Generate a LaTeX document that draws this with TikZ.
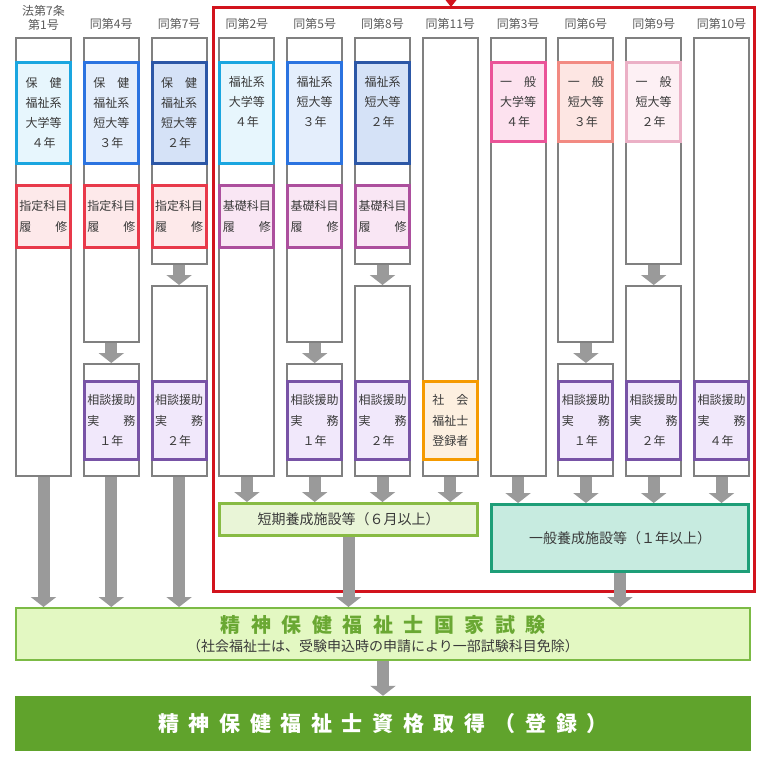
\documentclass[tikz,border=0pt]{standalone}
\usepackage{fontspec}
\setmainfont{Noto Sans CJK JP}
\usetikzlibrary{arrows.meta}
\pgfdeclarelayer{bgzero}
\pgfdeclarelayer{bgone}
\pgfsetlayers{bgzero,bgone,main}
\definecolor{colgray}{HTML}{808080}
\definecolor{arrgray}{HTML}{9A9A9A}
\definecolor{txtc}{HTML}{3A3A3A}
\definecolor{labc}{HTML}{5A5A5A}
\definecolor{cyanB}{HTML}{1AA6E0}
\definecolor{cyanF}{HTML}{E7F6FD}
\definecolor{blueB}{HTML}{2B73E0}
\definecolor{blueF}{HTML}{E4EEFC}
\definecolor{dblueB}{HTML}{2C57A6}
\definecolor{dblueF}{HTML}{D5E2F7}
\definecolor{redB}{HTML}{E8394A}
\definecolor{redF}{HTML}{FDE9EA}
\definecolor{magB}{HTML}{AC4F9D}
\definecolor{magF}{HTML}{F9E6F4}
\definecolor{purB}{HTML}{7853A6}
\definecolor{purF}{HTML}{F1E8FB}
\definecolor{orgB}{HTML}{F59A00}
\definecolor{orgF}{HTML}{FDF0E0}
\definecolor{pkaB}{HTML}{EA5498}
\definecolor{pkaF}{HTML}{FDE2EF}
\definecolor{pkbB}{HTML}{F28A82}
\definecolor{pkbF}{HTML}{FDE6E3}
\definecolor{pkcB}{HTML}{EBB0C6}
\definecolor{pkcF}{HTML}{FDF0F4}
\definecolor{shB}{HTML}{88BB44}
\definecolor{shF}{HTML}{E9F5D7}
\definecolor{genB}{HTML}{1E9E78}
\definecolor{genF}{HTML}{C7EBE0}
\definecolor{exB}{HTML}{7CBB45}
\definecolor{exF}{HTML}{E3F8C2}
\definecolor{exT}{HTML}{6AA833}
\definecolor{finF}{HTML}{60A32C}
\definecolor{frameR}{HTML}{D2131D}
\newcommand{\gspA}{\hspace{10.5pt}}
\newcommand{\gspB}{\hspace{9.6pt}}
\begin{document}
\begin{tikzpicture}[x=1pt,y=-1pt,
  colbox/.style={draw=colgray, line width=2pt, fill=white, minimum width=55pt, inner sep=0pt},
  cbox/.style={line width=3pt, minimum width=54pt, inner sep=0pt, align=center, text=txtc, font=\fontsize{12}{20.3}\selectfont},
  txt/.style={align=center, text=txtc, inner sep=0pt, font=\fontsize{12}{20.3}\selectfont},
  lab/.style={align=center, text=labc, inner sep=0pt, font=\fontsize{12}{14}\selectfont},
  blk/.style={draw=arrgray, line width=12pt, -{Triangle[width=25pt,length=10pt]}},
  wide/.style={line width=3pt, inner sep=0pt, text=txtc, font=\fontsize{14}{16}\selectfont}
]
\useasboundingbox (0,0) rectangle (763,763);

% column headings
\node[lab] (h1) at (43.5,18) {法第7条\\第1号};
\node[lab] (h2) at (111.3,24) {同第4号};
\node[lab] (h3) at (179.1,24) {同第7号};
\node[lab] (h4) at (246.9,24) {同第2号};
\node[lab] (h5) at (314.7,24) {同第5号};
\node[lab] (h6) at (382.5,24) {同第8号};
\node[lab] (h7) at (450.3,24) {同第11号};
\node[lab] (h8) at (518.1,24) {同第3号};
\node[lab] (h9) at (585.9,24) {同第6号};
\node[lab] (h10) at (653.7,24) {同第9号};
\node[lab] (h11) at (721.5,24) {同第10号};

% gray columns
\node[colbox, minimum height=438pt] (g1) at (43.5,257) {};
\node[colbox, minimum height=304pt] (g2a) at (111.3,190) {};
\node[colbox, minimum height=112pt] (g2b) at (111.3,420) {};
\node[colbox, minimum height=226pt] (g3a) at (179.1,151) {};
\node[colbox, minimum height=190pt] (g3b) at (179.1,381) {};
\node[colbox, minimum height=438pt] (g4) at (246.9,257) {};
\node[colbox, minimum height=304pt] (g5a) at (314.7,190) {};
\node[colbox, minimum height=112pt] (g5b) at (314.7,420) {};
\node[colbox, minimum height=226pt] (g6a) at (382.5,151) {};
\node[colbox, minimum height=190pt] (g6b) at (382.5,381) {};
\node[colbox, minimum height=438pt] (g7) at (450.3,257) {};
\node[colbox, minimum height=438pt] (g8) at (518.1,257) {};
\node[colbox, minimum height=304pt] (g9a) at (585.9,190) {};
\node[colbox, minimum height=112pt] (g9b) at (585.9,420) {};
\node[colbox, minimum height=226pt] (g10a) at (653.7,151) {};
\node[colbox, minimum height=190pt] (g10b) at (653.7,381) {};
\node[colbox, minimum height=438pt] (g11) at (721.5,257) {};

% upper coloured boxes
\node[cbox, draw=cyanB, fill=cyanF, minimum height=101pt] (u1) at (43.5,113) {保　健\\福祉系\\大学等\\４年};
\node[cbox, draw=blueB, fill=blueF, minimum height=101pt] (u2) at (111.3,113) {保　健\\福祉系\\短大等\\３年};
\node[cbox, draw=dblueB, fill=dblueF, minimum height=101pt] (u3) at (179.1,113) {保　健\\福祉系\\短大等\\２年};
\node[cbox, draw=cyanB, fill=cyanF, minimum height=101pt] (u4) at (246.9,113) {};
\node[txt] (t4) at (246.9,102) {福祉系\\大学等\\４年};
\node[cbox, draw=blueB, fill=blueF, minimum height=101pt] (u5) at (314.7,113) {};
\node[txt] (t5) at (314.7,102) {福祉系\\短大等\\３年};
\node[cbox, draw=dblueB, fill=dblueF, minimum height=101pt] (u6) at (382.5,113) {};
\node[txt] (t6) at (382.5,102) {福祉系\\短大等\\２年};
\node[cbox, draw=pkaB, fill=pkaF, minimum height=79pt] (u8) at (518.1,102) {一　般\\大学等\\４年};
\node[cbox, draw=pkbB, fill=pkbF, minimum height=79pt] (u9) at (585.9,102) {一　般\\短大等\\３年};
\node[cbox, draw=pkcB, fill=pkcF, minimum height=79pt] (u10) at (653.7,102) {一　般\\短大等\\２年};

% second boxes
\node[cbox, draw=redB, fill=redF, minimum height=62pt] (s1) at (43.5,216.5) {指定科目\\履\hspace{2em}修};
\node[cbox, draw=redB, fill=redF, minimum height=62pt] (s2) at (111.3,216.5) {指定科目\\履\hspace{2em}修};
\node[cbox, draw=redB, fill=redF, minimum height=62pt] (s3) at (179.1,216.5) {指定科目\\履\hspace{2em}修};
\node[cbox, draw=magB, fill=magF, minimum height=62pt] (s4) at (246.9,216.5) {基礎科目\\履\hspace{2em}修};
\node[cbox, draw=magB, fill=magF, minimum height=62pt] (s5) at (314.7,216.5) {基礎科目\\履\hspace{2em}修};
\node[cbox, draw=magB, fill=magF, minimum height=62pt] (s6) at (382.5,216.5) {基礎科目\\履\hspace{2em}修};

% lower boxes
\node[cbox, draw=purB, fill=purF, minimum height=78pt] (l2) at (111.3,420.5) {相談援助\\実\hspace{2em}務\\１年};
\node[cbox, draw=purB, fill=purF, minimum height=78pt] (l3) at (179.1,420.5) {相談援助\\実\hspace{2em}務\\２年};
\node[cbox, draw=purB, fill=purF, minimum height=78pt] (l5) at (314.7,420.5) {相談援助\\実\hspace{2em}務\\１年};
\node[cbox, draw=purB, fill=purF, minimum height=78pt] (l6) at (382.5,420.5) {相談援助\\実\hspace{2em}務\\２年};
\node[cbox, draw=orgB, fill=orgF, minimum height=78pt] (l7) at (450.3,420.5) {社　会\\福祉士\\登録者};
\node[cbox, draw=purB, fill=purF, minimum height=78pt] (l9) at (585.9,420.5) {相談援助\\実\hspace{2em}務\\１年};
\node[cbox, draw=purB, fill=purF, minimum height=78pt] (l10) at (653.7,420.5) {相談援助\\実\hspace{2em}務\\２年};
\node[cbox, draw=purB, fill=purF, minimum height=78pt] (l11) at (721.5,420.5) {相談援助\\実\hspace{2em}務\\４年};

% training facility boxes
\node[wide, draw=shB, fill=shF, minimum width=258pt, minimum height=32pt] (short) at (348.5,519.5) {短期養成施設等（６月以上）};
\node[wide, draw=genB, fill=genF, minimum width=257pt, minimum height=67pt] (general) at (620,538) {一般養成施設等（１年以上）};

% exam box
\node[draw=exB, fill=exF, line width=2pt, minimum width=734pt, minimum height=52pt, inner sep=0pt] (exam) at (383,634) {};
\node[inner sep=0pt, text=exT, font=\fontsize{20}{22}\selectfont\bfseries] (examt) at (383,624.5)
  {精\gspA 神\gspA 保\gspA 健\gspA 福\gspA 祉\gspA 士\gspA 国\gspA 家\gspA 試\gspA 験};
\node[inner sep=0pt, text=txtc, font=\fontsize{14}{16}\selectfont] (exams) at (383,646)
  {（社会福祉士は、受験申込時の申請により一部試験科目免除）};

% final box
\node[fill=finF, minimum width=736pt, minimum height=55pt, inner sep=0pt, text=white, font=\fontsize{21}{24}\selectfont\bfseries] (final) at (383,723.5)
  {\raisebox{-2.5pt}{精\gspB 神\gspB 保\gspB 健\gspB 福\gspB 祉\gspB 士\gspB 資\gspB 格\gspB 取\gspB 得\gspB （\gspB 登\gspB 録\gspB ）}};

% red frame
\begin{pgfonlayer}{bgzero}
\draw[frameR, line width=3pt] (213.5,7.5) rectangle (754.5,591.5);
\fill[frameR] (445.5,0) -- (456.5,0) -- (451,7) -- cycle;
\end{pgfonlayer}

% arrows
\begin{pgfonlayer}{bgone}
\draw[blk] (g1.south) -- (g1.south |- exam.north);
\draw[blk] (g2b.south) -- (g2b.south |- exam.north);
\draw[blk] (g3b.south) -- (g3b.south |- exam.north);
\draw[blk] (g2a.south) -- (g2b.north);
\draw[blk] (g3a.south) -- (g3b.north);
\draw[blk] (g5a.south) -- (g5b.north);
\draw[blk] (g6a.south) -- (g6b.north);
\draw[blk] (g9a.south) -- (g9b.north);
\draw[blk] (g10a.south) -- (g10b.north);
\draw[blk] (g4.south) -- (g4.south |- short.north);
\draw[blk] (g5b.south) -- (g5b.south |- short.north);
\draw[blk] (g6b.south) -- (g6b.south |- short.north);
\draw[blk] (g7.south) -- (g7.south |- short.north);
\draw[blk] (g8.south) -- (g8.south |- general.north);
\draw[blk] (g9b.south) -- (g9b.south |- general.north);
\draw[blk] (g10b.south) -- (g10b.south |- general.north);
\draw[blk] (g11.south) -- (g11.south |- general.north);
\draw[blk] (short.south) -- (short.south |- exam.north);
\draw[blk] (general.south) -- (general.south |- exam.north);
\draw[blk] (exam.south) -- (final.north);
\end{pgfonlayer}
\end{tikzpicture}
\end{document}
